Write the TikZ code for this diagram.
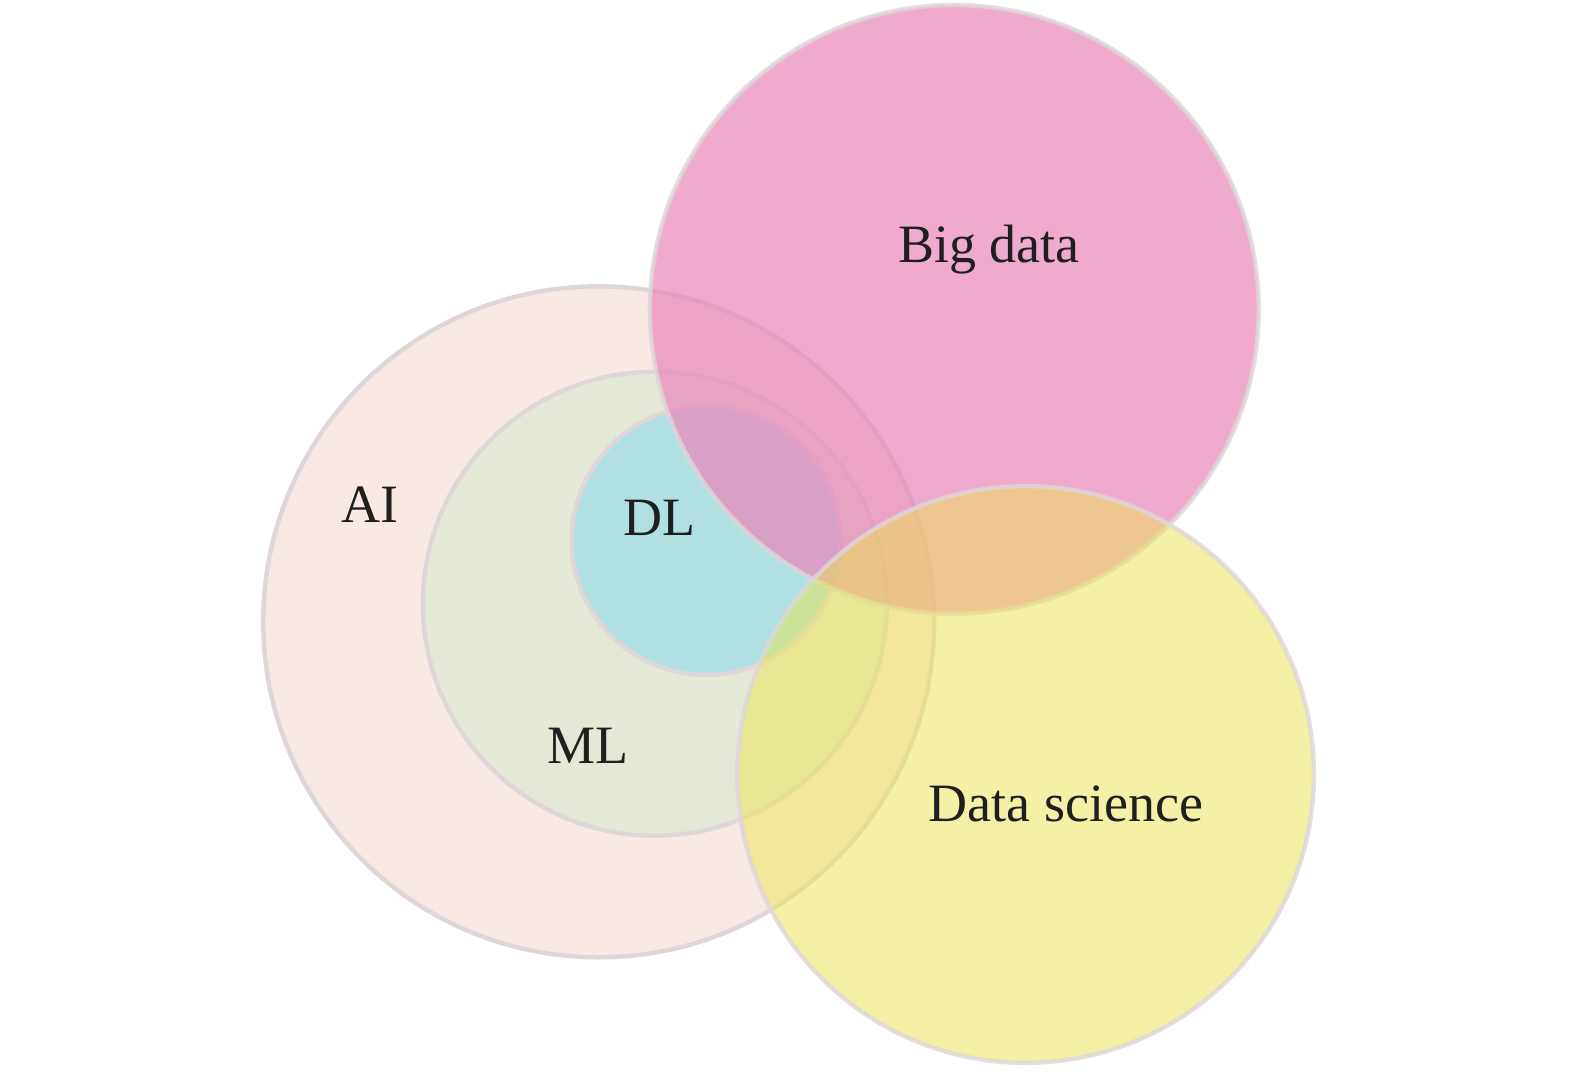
\documentclass[tikz,border=0pt]{standalone}
\usepackage{fontspec}
\setmainfont{Liberation Serif}
\definecolor{edgec}{RGB}{222,214,216}
\definecolor{aic}{RGB}{249,233,228}
\definecolor{mlc}{RGB}{228,232,214}
\definecolor{dlc}{RGB}{176,224,226}
\definecolor{bdc}{RGB}{234,134,186}
\definecolor{dsc}{RGB}{235,229,81}
\begin{document}
\begin{tikzpicture}[x=0.5pt,y=-0.5pt,
  ring/.style={draw=edgec,line width=2.2pt},
  lbl/.style={font=\fontsize{27}{32}\selectfont,text=black!88}]
\useasboundingbox (0,0) rectangle (1575,1073);
\fill[white] (0,0) rectangle (1575,1073);
\path[ring,fill=aic] (598.7,621.8) circle [radius=167.75pt];
\path[ring,fill=mlc] (654.9,603.7) circle [radius=116pt];
\path[ring,fill=dlc] (706.2,540.4) circle [radius=67.3pt];
\path[ring,fill=bdc,fill opacity=0.7,draw opacity=0.8] (954.3,309.4) circle [radius=152.2pt];
\path[ring,fill=dsc,fill opacity=0.5,draw opacity=0.8] (1025.6,774.5) circle [radius=144.15pt];
\node[lbl] (ai) at (370,505) {AI};
\node[lbl] (dl) at (659,518) {DL};
\node[lbl] (ml) at (588,746) {ML};
\node[lbl] (bd) at (989,250) {Big data};
\node[lbl] (ds) at (1066,804) {Data science};
\end{tikzpicture}
\end{document}
